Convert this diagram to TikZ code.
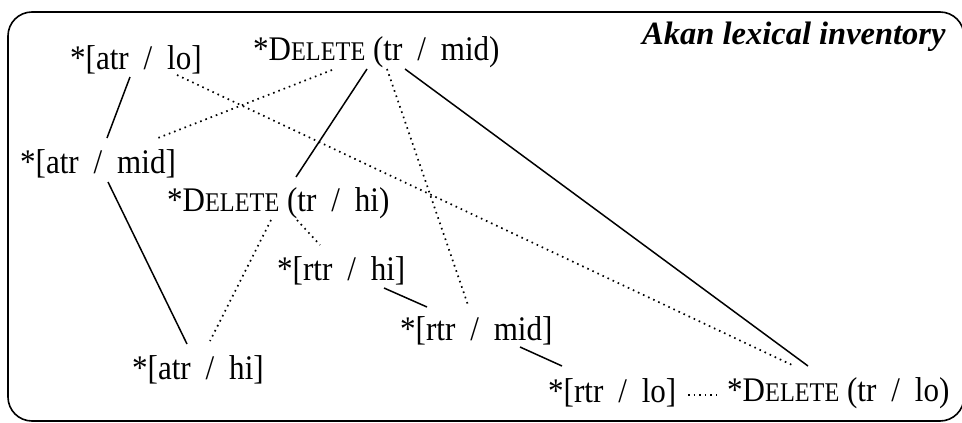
\documentclass[tikz,border=0pt]{standalone}
\usepackage{fontspec}
\usepackage{graphicx}
\setmainfont{Liberation Serif}
\usetikzlibrary{calc}
\newcommand{\mysl}{\hspace{0.48em}/\hspace{0.48em}}
\newcommand{\fakesc}[1]{{\fontsize{27}{27}\selectfont #1}}
\newcommand{\narrow}[1]{\scalebox{0.9}[1]{#1}}
\tikzset{
  lbl/.style={anchor=base west, inner sep=0pt, font=\fontsize{34.5}{34.5}\selectfont},
  ttl/.style={anchor=base west, inner sep=0pt, font=\fontsize{32.5}{32.5}\selectfont\bfseries\itshape},
  solidconn/.style={line width=1.5pt},
  dotconn/.style={line width=1.7pt, dash pattern=on 1.6pt off 4pt},
  frame/.style={line width=1.6pt, rounded corners=24pt}
}
\begin{document}
\begin{tikzpicture}[x=1pt,y=-1pt]
\useasboundingbox (0,0) rectangle (962,423);
\draw[frame] (8,12) rectangle (964,421);
\node[ttl] (title) at (642,45) {Akan lexical inventory};
\node[lbl] (atrlo)  at (70,69)   {\narrow{*[atr\mysl lo]}};
\node[lbl] (delmid) at (253,60)  {\narrow{*D\fakesc{ELETE} (tr\mysl mid)}};
\node[lbl] (atrmid) at (20,173)  {\narrow{*[atr\mysl mid]}};
\node[lbl] (delhi)  at (167,211) {\narrow{*D\fakesc{ELETE} (tr\mysl hi)}};
\node[lbl] (rtrhi)  at (277,280) {\narrow{*[rtr\mysl hi]}};
\node[lbl] (rtrmid) at (400,340) {\narrow{*[rtr\mysl mid]}};
\node[lbl] (atrhi)  at (132,379) {\narrow{*[atr\mysl hi]}};
\node[lbl] (rtrlo)  at (548,402) {\narrow{*[rtr\mysl lo]}};
\node[lbl] (dello)  at (727,401) {\narrow{*D\fakesc{ELETE} (tr\mysl lo)}};
% solid connectors
\draw[solidconn] ($(atrlo.base west)+(60,8)$) -- ($(atrmid.base west)+(87,-35)$);
\draw[solidconn] ($(atrmid.base west)+(88,9)$) -- ($(atrhi.base west)+(55,-35)$);
\draw[solidconn] ($(delmid.base west)+(114,9)$) -- ($(delhi.base west)+(129,-34)$);
\draw[solidconn] ($(delmid.base west)+(152,9)$) -- ($(dello.base west)+(81,-35)$);
\draw[solidconn] ($(rtrhi.base west)+(107,8)$) -- ($(rtrmid.base west)+(27,-33)$);
\draw[solidconn] ($(rtrmid.base west)+(120,7)$) -- ($(rtrlo.base west)+(14,-36)$);
% dotted connectors
\draw[dotconn] ($(atrlo.base west)+(107,6)$) -- ($(dello.base west)+(65,-36)$);
\draw[dotconn] ($(delmid.base west)+(79,10)$) -- ($(atrmid.base west)+(138,-35)$);
\draw[dotconn] ($(delmid.base west)+(134,9)$) -- ($(rtrmid.base west)+(68,-35)$);
\draw[dotconn] ($(delhi.base west)+(104,9)$) -- ($(atrhi.base west)+(78,-38)$);
\draw[dotconn] ($(delhi.base west)+(130,9)$) -- ($(rtrhi.base west)+(43,-35)$);
\draw[dotconn] ($(rtrlo.base west)+(140,-7)$) -- ($(dello.base west)+(-10,-6)$);
\end{tikzpicture}
\end{document}
